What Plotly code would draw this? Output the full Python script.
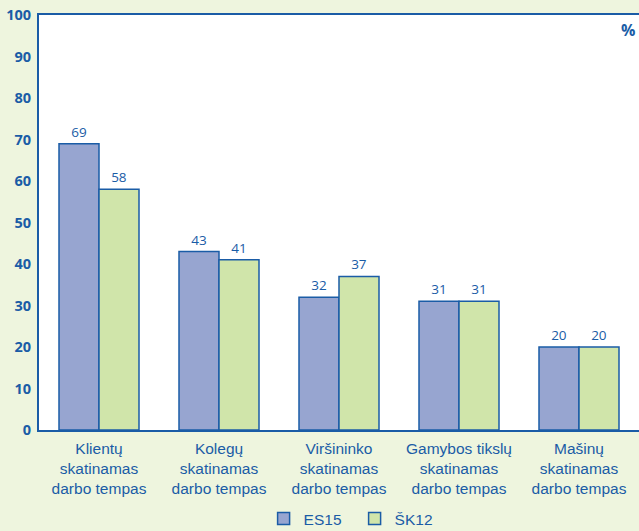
import plotly.graph_objects as go

categories = ["Klientų<br>skatinamas<br>darbo tempas", "Kolegų<br>skatinamas<br>darbo tempas",
              "Viršininko<br>skatinamas<br>darbo tempas", "Gamybos tikslų<br>skatinamas<br>darbo tempas",
              "Mašinų<br>skatinamas<br>darbo tempas"]
es15 = [69, 43, 32, 31, 20]
sk12 = [58, 41, 37, 31, 20]
y_ticks = list(range(0, 101, 10))

blue = "#1a5ca6"
bg = "#eef5de"

fig = go.Figure()
fig.add_trace(go.Bar(name="ES15", x=categories, y=es15, text=[str(v) for v in es15],
                     textposition="outside", cliponaxis=False,
                     marker=dict(color="#97a5d0", line=dict(color=blue, width=1.5)),
                     textfont=dict(color=blue, size=13.5, family="Open Sans")))
fig.add_trace(go.Bar(name="ŠK12", x=categories, y=sk12, text=[str(v) for v in sk12],
                     textposition="outside", cliponaxis=False,
                     marker=dict(color="#d0e5aa", line=dict(color=blue, width=1.5)),
                     textfont=dict(color=blue, size=13.5, family="Open Sans")))

fig.update_layout(
    width=639, height=531,
    margin=dict(l=39, r=0, t=15, b=101, autoexpand=False),
    paper_bgcolor=bg, plot_bgcolor="white",
    barmode="group", bargap=1/3, bargroupgap=0,
    font=dict(family="Liberation Sans", color=blue, size=14),
    showlegend=True,
    legend=dict(orientation="h", x=0.526, xanchor="center", y=-0.2145, yanchor="middle",
                font=dict(size=15.5, color=blue), bgcolor="rgba(0,0,0,0)",
                itemwidth=30, entrywidth=46, traceorder="normal"),
    annotations=[dict(text="<b>%</b>", x=1, xref="paper", xanchor="right", xshift=-2,
                      y=1, yref="paper", yanchor="top", yshift=-2, showarrow=False,
                      font=dict(size=16, color=blue, family="Open Sans"))],
)
fig.update_xaxes(showline=True, linecolor=blue, linewidth=2, mirror=True, ticks="",
                 ticklabelstandoff=3,
                 tickfont=dict(size=15.5, color=blue, family="Liberation Sans"), showgrid=False)
fig.update_yaxes(range=[0, 100], tickvals=y_ticks, showline=True, linecolor=blue, linewidth=2,
                 showgrid=False, zeroline=False, ticks="", ticklabelstandoff=3,
                 tickfont=dict(size=14.5, color=blue, family="Open Sans", weight="bold"))

fig.write_html("out.html", config={"displayModeBar": False},
               post_script="document.body.style.margin='0px';")
